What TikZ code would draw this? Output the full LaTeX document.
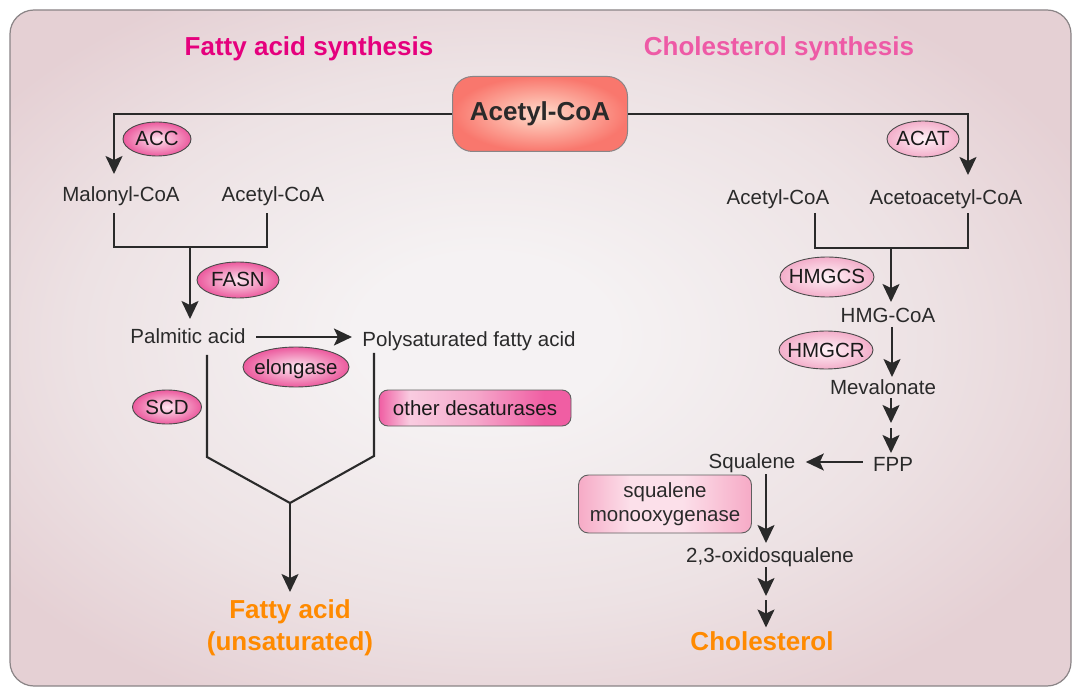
\documentclass[tikz,border=0pt]{standalone}
\usepackage{fontspec}
\setmainfont{Liberation Sans}
\usetikzlibrary{arrows.meta,shapes.geometric,calc}
\definecolor{ink}{HTML}{2A2A2A}
\definecolor{fattitle}{HTML}{E5007D}
\definecolor{choltitle}{HTML}{EE5AA6}
\definecolor{orng}{HTML}{FF8A00}
\definecolor{bgin}{HTML}{F5F2F3}
\definecolor{bgmid}{HTML}{EDE2E4}
\definecolor{bgout}{HTML}{E5D0D4}
\definecolor{framec}{HTML}{8A8486}
\definecolor{acin}{HTML}{FFDCCB}
\definecolor{acout}{HTML}{F9776D}
\definecolor{pkin}{HTML}{FCE6EF}
\definecolor{pkout}{HTML}{EC5A9E}
\definecolor{lpin}{HTML}{FFF4F8}
\definecolor{lpout}{HTML}{F3AECA}
\definecolor{dsP}{HTML}{F05EA3}
\definecolor{dsL}{HTML}{F9CCE0}
\definecolor{dsM}{HTML}{F5A8CB}
\definecolor{smP}{HTML}{F6AAC6}
\definecolor{smL}{HTML}{FCE0EA}
\pgfdeclareradialshading{bgshade}{\pgfpoint{-3bp}{1bp}}{color(0bp)=(bgin); color(6bp)=(bgin); color(20bp)=(bgmid); color(30bp)=(bgout); color(50bp)=(bgout)}
\pgfdeclarehorizontalshading{desshade}{100bp}{color(0bp)=(dsP); color(25bp)=(dsP); color(33bp)=(dsL); color(50bp)=(dsM); color(68bp)=(dsP); color(100bp)=(dsP)}
\pgfdeclarehorizontalshading{smshade}{100bp}{color(0bp)=(smP); color(25bp)=(smP); color(40bp)=(smL); color(55bp)=(smL); color(75bp)=(smP); color(100bp)=(smP)}
\tikzset{
  lbl/.style={font=\fontsize{20.5}{24}\selectfont, text=ink, inner sep=0pt, outer sep=10.5pt, text height=14.5pt, text depth=0.5pt},
  enz/.style={ellipse, draw=ink!85, line width=0.9pt, inner color=pkin, outer color=pkout,
    font=\fontsize{20.5}{24}\selectfont, text=black!90, inner sep=-6pt, text height=14.5pt, text depth=0.5pt},
  lenz/.style={enz, inner color=lpin, outer color=lpout},
  ln/.style={draw=ink, line width=2.1pt},
  arr/.style={ln, -{Stealth[length=18pt,width=17pt,inset=4pt]}},
  ttl/.style={font=\bfseries\fontsize{26}{32}\selectfont},
  prod/.style={ttl, text=orng, align=center, inner sep=0pt},
  hub/.style={rectangle, rounded corners=20pt, draw=framec, line width=1pt, inner color=acin, outer color=acout,
    minimum width=175pt, minimum height=75pt, ttl, text=ink},
  dsbox/.style={rectangle, rounded corners=9pt, draw=ink!75, line width=0.9pt, shade, shading=desshade,
    minimum width=192pt, minimum height=36pt, font=\fontsize{20.5}{24}\selectfont, text=black!90,
    inner sep=0pt, text height=14.5pt, text depth=0.5pt},
  smbox/.style={rectangle, rounded corners=10pt, draw=ink!75, line width=0.9pt, shade, shading=smshade,
    minimum width=173pt, minimum height=58pt, align=center, font=\fontsize{20.5}{24}\selectfont, text=ink}
}
\begin{document}
\begin{tikzpicture}[x=1pt,y=-1pt]
\useasboundingbox (0,0) rectangle (1080,695);
\fill[white] (0,0) rectangle (1080,695);
\shade[shading=bgshade, rounded corners=24pt] (10,10) rectangle (1071,686);
\draw[draw=framec, line width=1.2pt, rounded corners=24pt] (10,10) rectangle (1071,686);

% titles and hub
\node[ttl, text=fattitle] (ttlFA) at (309,49) {Fatty acid synthesis};
\node[ttl, text=choltitle] (ttlCH) at (779,49) {Cholesterol synthesis};
\node[hub] (acoa) at (540,114) {Acetyl-CoA};

% fatty acid branch
\node[lbl] (malonyl) at (121,195) {Malonyl-CoA};
\node[lbl] (acetylL) at (273,195) {Acetyl-CoA};
\node[enz, minimum width=68pt, minimum height=34pt] (acc) at (157,139) {ACC};
\node[enz, minimum width=82pt, minimum height=36pt] (fasn) at (238,280) {FASN};
\node[lbl] (palm) at (188,337) {Palmitic acid};
\node[lbl] (poly) at (469,339) {Polysaturated fatty acid};
\node[enz, minimum width=106pt, minimum height=40pt] (elong) at (296,367) {elongase};
\node[enz, minimum width=69pt, minimum height=34pt] (scd) at (167,407) {SCD};
\node[dsbox] (desat) at (475,408) {other desaturases};
\node[prod, anchor=north, outer sep=8pt] (fa) at (290,592) {Fatty acid\\(unsaturated)};

\coordinate (jL) at (190,247);
\coordinate (jY) at (290,503);
\draw[arr] (acoa.west) -| ($(malonyl.north)+(-7,-3)$);
\draw[ln] ($(malonyl.south)+(-7,0)$) |- ($(acetylL.south |- jL)+(-6,0)$) -- ($(acetylL.south)+(-6,0)$);
\draw[arr] (jL) -- (jL |- palm.north);
\draw[arr] (palm.east) -- (palm.east -| poly.west);
\draw[ln] ($(palm.south)+(19,0)$) -- ++(0,102) -- (jY) -- ($(poly.south)+(-95,99)$) -- ($(poly.south)+(-95,-4)$);
\draw[arr] (jY) -- (fa.north);

% cholesterol branch
\node[lbl] (acetylR) at (778,198) {Acetyl-CoA};
\node[lbl] (acac) at (946,198) {Acetoacetyl-CoA};
\node[lenz, minimum width=72pt, minimum height=36pt] (acat) at (923,139) {ACAT};
\node[lbl] (hmg) at (888,316) {HMG-CoA};
\node[lenz, minimum width=94pt, minimum height=40pt] (hmgcs) at (827,277) {HMGCS};
\node[lbl] (mev) at (883,388) {Mevalonate};
\node[lenz, minimum width=94pt, minimum height=38pt] (hmgcr) at (826,350) {HMGCR};
\node[lbl] (fpp) at (893,464) {FPP};
\node[lbl] (sq) at (752,461) {Squalene};
\node[smbox] (sqmo) at (665,504) {squalene\\monooxygenase};
\node[lbl] (oxi) at (770,555) {2,3-oxidosqualene};
\node[ttl, text=orng, inner sep=0pt, outer sep=4pt, text height=19pt, text depth=0pt] (chol) at (762,641) {Cholesterol};

\coordinate (jR) at (891,248);
\coordinate (s1) at (891,425);
\coordinate (s2) at (766,598);
\draw[arr] (acoa.east) -| ($(acac.north)+(22,-5)$);
\draw[ln] ($(acetylR.south)+(37,-3)$) |- ($(acac.south |- jR)+(22,0)$) -- ($(acac.south)+(22,-3)$);
\draw[arr] (jR) -- ($(jR |- hmg.north)+(0,4)$);
\draw[arr] ($(hmg.south)+(4,-7)$) -- ($(hmg.south |- mev.north)+(4,7)$);
\draw[arr] ($(mev.south)+(8,-8)$) -- ($(s1)+(0,-2)$);
\draw[arr] ($(s1)+(0,3)$) -- ($(fpp.north)+(-2,7)$);
\draw[arr] ($(fpp.west)+(0,-2)$) -- ($(fpp.west -| sq.east)+(0,-2)$);
\draw[arr] ($(sq.south)+(14,-5)$) -- ($(sq.south |- oxi.north)+(14,6)$);
\draw[arr] ($(oxi.south)+(-4,-6)$) -- ($(s2)+(0,-2)$);
\draw[arr] ($(s2)+(0,2)$) -- (chol.north -| s2);
\end{tikzpicture}
\end{document}
